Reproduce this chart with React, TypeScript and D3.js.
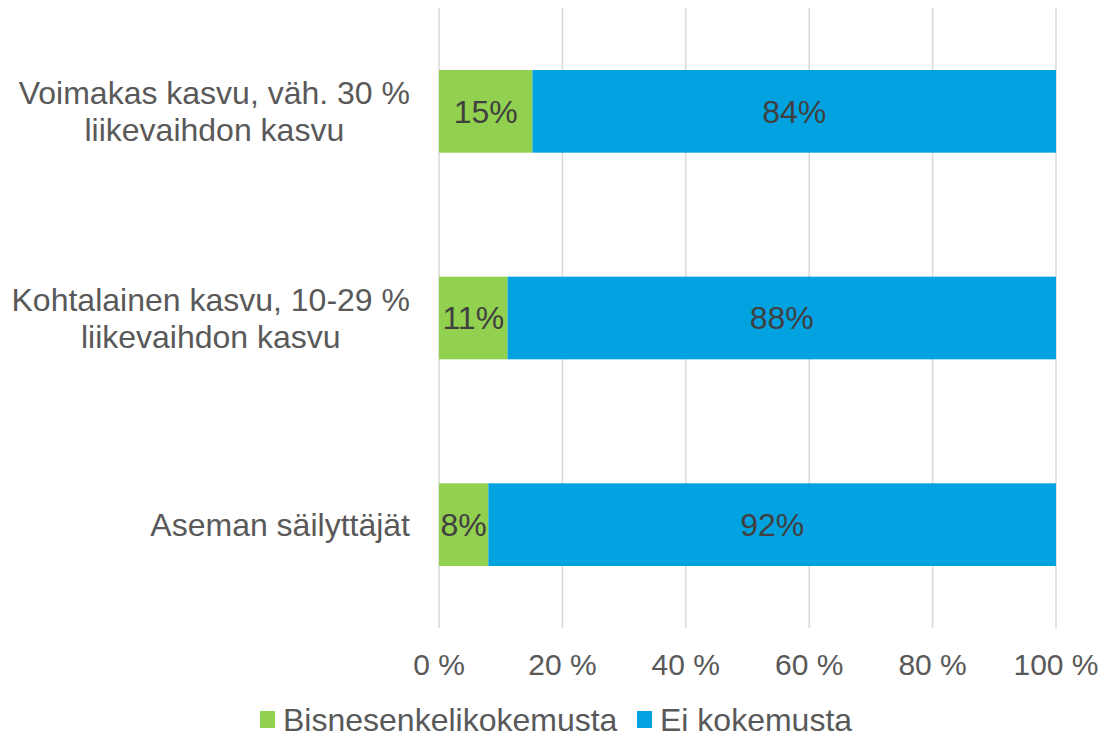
import React, { useEffect, useRef } from "react";
import * as d3 from "d3";

const categories = [
  ["Voimakas kasvu, väh. 30 %", "liikevaihdon kasvu"],
  ["Kohtalainen kasvu, 10-29 %", "liikevaihdon kasvu"],
  ["Aseman säilyttäjät"],
];
const seriesNames = ["Bisnesenkelikokemusta", "Ei kokemusta"];
const withExperience = [15, 11, 8];
const noExperience = [84, 88, 92];
const tickValues = [0, 0.2, 0.4, 0.6, 0.8, 1];
const colors = ["#92D050", "#00A2E0"];

export default function App() {
  const svgRef = useRef<SVGSVGElement>(null);
  const width = 1104;
  const height = 739;

  useEffect(() => {
    const svg = d3.select(svgRef.current);
    svg.selectAll("*").remove();

    const font = "'Liberation Sans', Arial, sans-serif";
    const rows = categories.map((c, i) => ({
      key: String(i),
      a: withExperience[i],
      b: noExperience[i],
    }));

    const stacked = d3
      .stack<any>()
      .keys(["a", "b"])
      .offset(d3.stackOffsetExpand)(rows);

    const x = d3.scaleLinear().domain([0, 1]).range([439, 1056]);
    const y = d3
      .scaleBand()
      .domain(rows.map((r) => r.key))
      .range([8, 628])
      .paddingInner(0.6)
      .paddingOuter(0.3);

    // gridlines
    svg
      .append("g")
      .selectAll("line")
      .data(tickValues)
      .join("line")
      .attr("x1", (d) => x(d))
      .attr("x2", (d) => x(d))
      .attr("y1", 8)
      .attr("y2", 628)
      .attr("stroke", "#D9D9D9")
      .attr("stroke-width", 1.5);

    // bars
    const layers = svg
      .append("g")
      .selectAll("g")
      .data(stacked)
      .join("g")
      .attr("fill", (d, i) => colors[i]);

    layers
      .selectAll("rect")
      .data((d) => d)
      .join("rect")
      .attr("x", (d) => x(d[0]))
      .attr("width", (d) => x(d[1]) - x(d[0]))
      .attr("y", (d: any) => y(d.data.key)!)
      .attr("height", y.bandwidth());

    // value labels
    const values = [withExperience, noExperience];
    stacked.forEach((layer, li) => {
      svg
        .append("g")
        .selectAll("text")
        .data(layer)
        .join("text")
        .attr("x", (d) => (x(d[0]) + x(d[1])) / 2)
        .attr("y", (d: any) => y(d.data.key)! + y.bandwidth() / 2)
        .attr("dy", "0.35em")
        .attr("text-anchor", "middle")
        .attr("font-family", font)
        .attr("font-size", 32)
        .attr("fill", "#404040")
        .text((d, i) => values[li][i] + "%");
    });

    // category labels: block right-aligned, lines centred inside block
    const labelRight = 410;
    const catG = svg
      .append("g")
      .selectAll("text")
      .data(categories)
      .join("text")
      .attr("text-anchor", "middle")
      .attr("font-family", font)
      .attr("font-size", 32)
      .attr("fill", "#595959");
    catG.each(function (lines, i) {
      const cy = y(String(i))! + y.bandwidth() / 2;
      const lh = 37;
      const top = cy - ((lines.length - 1) * lh) / 2;
      const spans = d3
        .select(this)
        .selectAll("tspan")
        .data(lines)
        .join("tspan")
        .attr("x", 0)
        .attr("y", (d, j) => top + j * lh)
        .attr("dy", "0.35em")
        .text((d) => d);
      let maxW = 0;
      spans.each(function () {
        maxW = Math.max(maxW, (this as SVGTSpanElement).getComputedTextLength());
      });
      spans.attr("x", labelRight - maxW / 2);
    });

    // x axis tick labels
    svg
      .append("g")
      .selectAll("text")
      .data(tickValues)
      .join("text")
      .attr("x", (d) => x(d))
      .attr("y", 675)
      .attr("text-anchor", "middle")
      .attr("font-family", font)
      .attr("font-size", 30)
      .attr("fill", "#595959")
      .text((d) => Math.round(d * 100) + " %");

    // legend
    const legendX = [260, 637];
    const lg = svg
      .append("g")
      .selectAll("g")
      .data(seriesNames)
      .join("g")
      .attr("transform", (d, i) => `translate(${legendX[i]},720)`);
    lg.append("rect")
      .attr("x", 0)
      .attr("y", -9)
      .attr("width", 15)
      .attr("height", 17)
      .attr("fill", (d, i) => colors[i]);
    lg.append("text")
      .attr("x", 23)
      .attr("y", 0)
      .attr("dy", "0.35em")
      .attr("font-family", font)
      .attr("font-size", 32)
      .attr("fill", "#595959")
      .text((d) => d);
  }, []);

  return (
    <svg
      ref={svgRef}
      width={width}
      height={height}
      style={{ position: "absolute", left: 0, top: 0, background: "#fff" }}
    />
  );
}
